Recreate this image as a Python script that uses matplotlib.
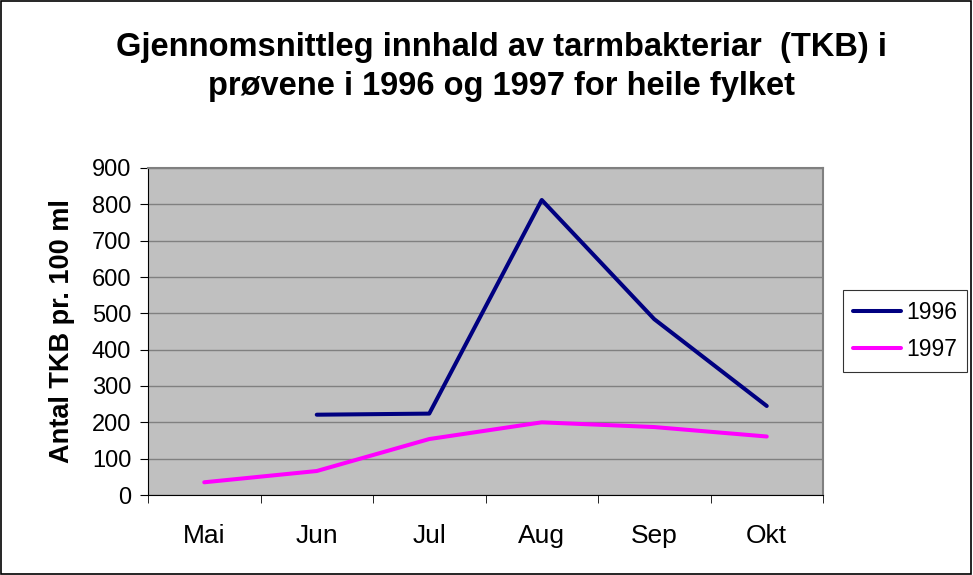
import numpy as np
import matplotlib.pyplot as plt
from matplotlib.patches import Rectangle

plt.rcParams['font.family'] = ['Liberation Sans', 'DejaVu Sans']

months = ['Mai', 'Jun', 'Jul', 'Aug', 'Sep', 'Okt']
tkb_1996 = [np.nan, 221, 224, 812, 484, 245]
tkb_1997 = [35, 66, 154, 200, 187, 161]
y_ticks = [0, 100, 200, 300, 400, 500, 600, 700, 800, 900]

fig = plt.figure(figsize=(9.73, 5.75), dpi=100)
ax = fig.add_axes([148/973, 1 - 495/575, 675/973, 327/575])
ax.set_facecolor('#C0C0C0')

x = np.arange(len(months))
ax.plot(x, tkb_1996, color='#000080', lw=2.9, label='1996', solid_capstyle='round')
ax.plot(x, tkb_1997, color='#FF00FF', lw=2.9, label='1997', solid_capstyle='round')

ax.set_xlim(-0.5, len(months) - 0.5)
ax.set_ylim(0, 900)
ax.set_yticks(y_ticks)
ax.set_yticklabels([str(v) for v in y_ticks], fontsize=17)
ax.set_xticks(x)
ax.set_xticklabels(months, fontsize=19)
ax.set_xticks(np.arange(-0.5, len(months)), minor=True)
ax.tick_params(axis='x', which='major', length=0, pad=21)
ax.tick_params(axis='x', which='minor', length=6, direction='out', color='black')
ax.tick_params(axis='y', length=6, direction='out', pad=6)
ax.grid(axis='y', color='#808080', lw=1)
ax.set_axisbelow(True)

for side in ['top', 'right']:
    ax.spines[side].set_color('#808080')
    ax.spines[side].set_linewidth(1.5)
for side in ['left', 'bottom']:
    ax.spines[side].set_color('black')

ax.set_ylabel('Antal TKB pr. 100 ml', fontsize=19.5, fontweight='bold', labelpad=12)

fig.text(0.515, 0.883, 'Gjennomsnittleg innhald av tarmbakteriar  (TKB) i\nprøvene i 1996 og 1997 for heile fylket',
         ha='center', va='center', fontsize=23.5, fontweight='bold', linespacing=1.35)

leg = ax.legend(loc='center left', bbox_to_anchor=(843/973, 1 - 331/575), bbox_transform=fig.transFigure,
                fontsize=16.5, frameon=True, fancybox=False, edgecolor='black',
                handlelength=2.1, handletextpad=0.2, borderpad=0.45, labelspacing=0.65, borderaxespad=0)
leg.get_frame().set_linewidth(0.8)

fig.patches.append(Rectangle((0.001, 0.001), 0.997, 0.997, transform=fig.transFigure,
                             fill=False, edgecolor='black', lw=1.2))

fig.savefig('out.png', dpi=100, facecolor='white')
